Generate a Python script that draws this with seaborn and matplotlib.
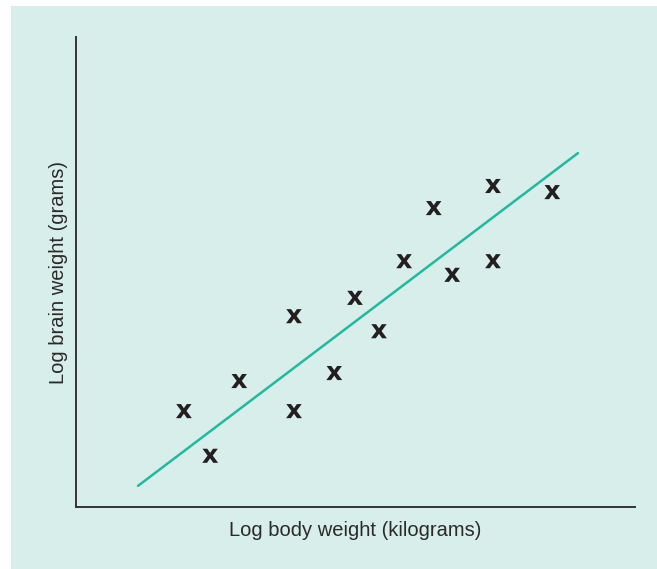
import pandas as pd
import matplotlib.pyplot as plt
from matplotlib.patches import Rectangle
import seaborn as sns

# readings (arbitrary log units, axes have no ticks)
body = [1.93, 2.40, 2.92, 3.90, 3.90, 4.62, 4.99, 5.42, 5.87, 6.40, 6.73, 7.46, 7.46, 8.52]
brain = [2.04, 1.09, 2.68, 4.06, 2.04, 2.85, 4.45, 3.74, 5.23, 6.36, 4.94, 6.83, 5.23, 6.70]
fit_x = [1.11, 8.98]
fit_y = [0.45, 7.53]

BG = "#d8eeea"
TEAL = "#25b8a0"

points = pd.DataFrame({"body": body, "brain": brain})
fit = pd.DataFrame({"x": fit_x, "y": fit_y})

sns.set_theme(style="white")
plt.rcParams["font.family"] = ["Liberation Sans", "DejaVu Sans"]

fig = plt.figure(figsize=(6.57, 5.69), dpi=100, facecolor="white")
fig.patches.append(Rectangle((11 / 657, 0), 1, 1 - 6 / 569, transform=fig.transFigure,
                             facecolor=BG, edgecolor="none", zorder=-5))
ax = fig.add_axes([76 / 657, 62 / 569, 559 / 657, 470 / 569])
ax.set_facecolor(BG)

sns.lineplot(data=fit, x="x", y="y", color=TEAL, linewidth=1.8, ax=ax)
sns.scatterplot(data=points, x="body", y="brain", marker=r"$\mathbf{x}$",
                s=130, color="#231f20", edgecolor="none", ax=ax)

ax.set(xlim=(0, 10), ylim=(0, 10), xticks=[], yticks=[])
ax.set_xlabel("Log body weight (kilograms)", fontsize=14.5, color="#2a2a2a", labelpad=10)
ax.set_ylabel("Log brain weight (grams)", fontsize=14.5, color="#2a2a2a", labelpad=6)
for side in ["top", "right"]:
    ax.spines[side].set_visible(False)
for side in ["left", "bottom"]:
    ax.spines[side].set_color("#333333")
    ax.spines[side].set_linewidth(1.4)

fig.savefig("out.png", dpi=100, facecolor="white")
